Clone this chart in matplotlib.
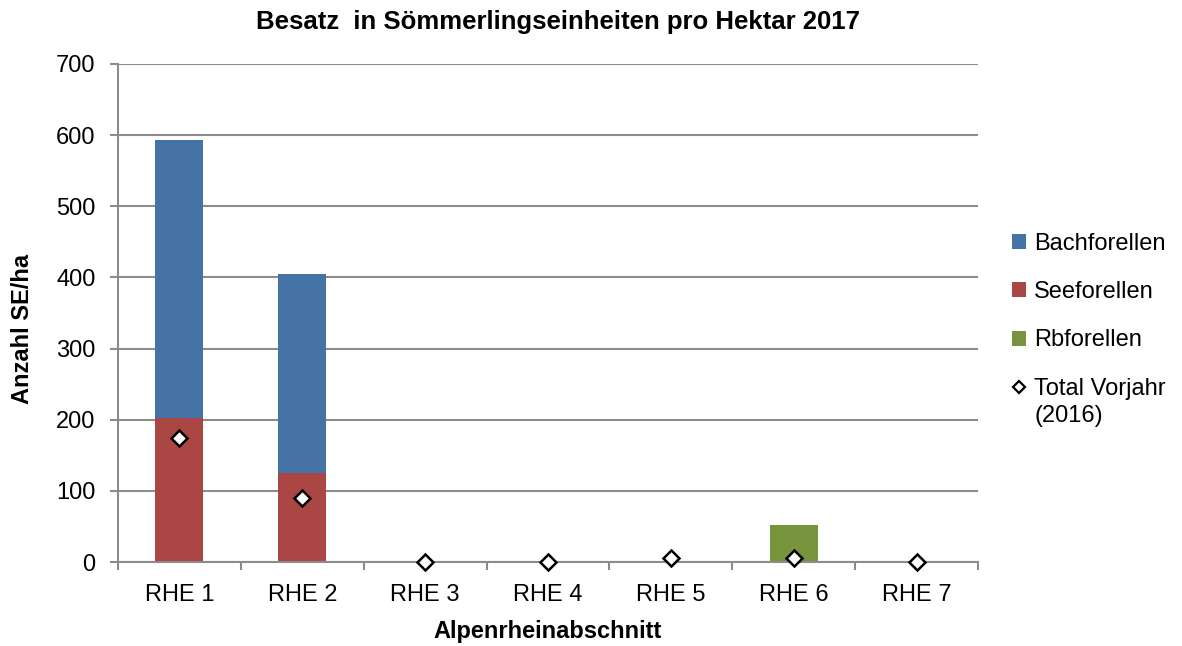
import matplotlib
matplotlib.use("Agg")
import matplotlib.pyplot as plt
from matplotlib.lines import Line2D
from matplotlib.patches import Patch
import numpy as np

plt.rcParams['font.family'] = ['Liberation Sans', 'DejaVu Sans']

categories = ["RHE 1", "RHE 2", "RHE 3", "RHE 4", "RHE 5", "RHE 6", "RHE 7"]
seeforellen = [203, 125, 0, 0, 0, 0, 0]
bachforellen = [390, 280, 0, 0, 0, 0, 0]
rbforellen = [0, 0, 0, 0, 0, 52, 0]
vorjahr = [174, 90, 0, 0, 5, 5, 0]
yticks = [0, 100, 200, 300, 400, 500, 600, 700]

c_blue = "#4573A7"
c_red = "#AA4643"
c_green = "#77933C"
grid_c = "#8C8C8C"
FS = 17

fig = plt.figure(figsize=(11.82, 6.46), dpi=100)
ax = fig.add_axes([0.0998, 0.130, 0.7276, 0.771])

x = np.arange(len(categories))
w = 0.39
sf = np.array(seeforellen)
bf = np.array(bachforellen)
rb = np.array(rbforellen)
ax.bar(x, sf, w, color=c_red, zorder=2)
ax.bar(x, bf, w, bottom=sf, color=c_blue, zorder=2)
ax.bar(x, rb, w, bottom=sf + bf, color=c_green, zorder=2)
ax.plot(x, vorjahr, linestyle='none', marker='D', markersize=8.5,
        markerfacecolor='white', markeredgecolor='black', markeredgewidth=1.8,
        zorder=4, clip_on=False)

ax.set_xlim(-0.5, len(categories) - 0.5)
ax.set_ylim(0, 700)
ax.set_yticks(yticks)
ax.set_yticklabels([str(v) for v in yticks], fontsize=FS)
ax.yaxis.grid(True, color=grid_c, linewidth=1.5, zorder=0)
ax.set_axisbelow(True)

ax.set_xticks(x)
ax.set_xticklabels(categories, fontsize=FS)
ax.set_xticks(np.arange(len(categories) + 1) - 0.5, minor=True)
ax.tick_params(axis='x', which='major', length=0, pad=16)
ax.tick_params(axis='x', which='minor', length=6, width=1.5, color=grid_c, direction='out')
ax.tick_params(axis='y', length=6, width=1.5, color=grid_c, direction='out', pad=10)

for s in ['top', 'right']:
    ax.spines[s].set_visible(False)
for s in ['left', 'bottom']:
    ax.spines[s].set_color(grid_c)
    ax.spines[s].set_linewidth(1.5)

ax.set_xlabel("Alpenrheinabschnitt", fontsize=FS, fontweight='bold', labelpad=10)
ax.set_ylabel("Anzahl SE/ha", fontsize=FS, fontweight='bold')
ax.yaxis.set_label_coords(-0.098, 0.468)
fig.text(0.472, 0.966, "Besatz  in Sömmerlingseinheiten pro Hektar 2017", ha='center', va='center',
         fontsize=18.5, fontweight='bold')

handles = [
    Patch(facecolor=c_blue, label="Bachforellen"),
    Patch(facecolor=c_red, label="Seeforellen"),
    Patch(facecolor=c_green, label="Rbforellen"),
    Line2D([], [], linestyle='none', marker='D', markersize=6.5, markerfacecolor='white',
           markeredgecolor='black', markeredgewidth=1.6, label="Total Vorjahr"),
]
leg = fig.legend(handles=handles, loc='upper left', bbox_to_anchor=(0.848, 0.654), frameon=False,
                 fontsize=FS, labelspacing=1.11, handlelength=0.6, handleheight=0.6,
                 handletextpad=0.35, borderaxespad=0)

fig.canvas.draw()
bb = leg.get_texts()[3].get_window_extent()
W, H = fig.get_size_inches() * fig.dpi
fig.text(bb.x0 / W, (bb.y1 - 27) / H, "(2016)", ha='left', va='top', fontsize=FS)

fig.savefig("out.png", dpi=100)
